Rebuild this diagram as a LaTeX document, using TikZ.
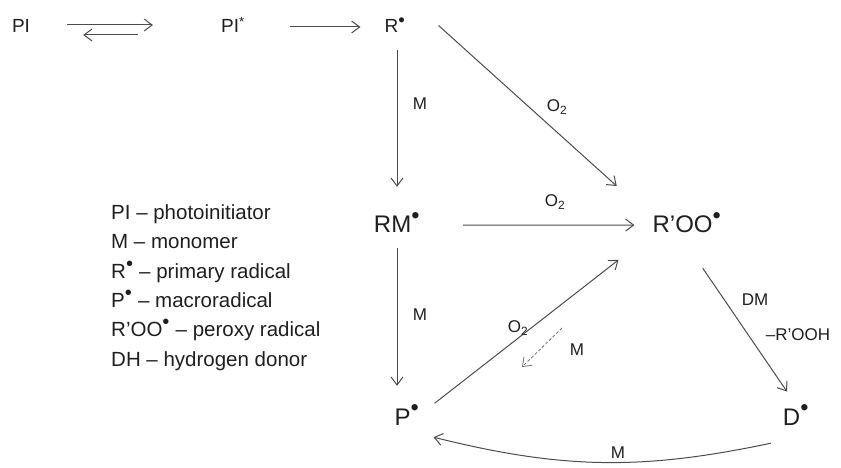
\documentclass[tikz,border=0pt]{standalone}
\usepackage{fontspec}
\setmainfont{Liberation Sans}
\usetikzlibrary{arrows.meta}

\newcommand{\rdot}{\textsuperscript{\scalebox{1.4}{\textbullet}}}
\newcommand{\fsz}[1]{\fontsize{#1}{#1}\selectfont}

\begin{document}
\begin{tikzpicture}[x=1pt, y=-1pt,
  every node/.style={inner sep=0pt, text=black!88},
  spc/.style={anchor=base, font=\fsz{19}},
  bigspc/.style={anchor=base, font=\fsz{24}},
  lbl/.style={font=\fsz{17}},
  leg/.style={anchor=base west, font=\fsz{20.5}},
  rxn/.style={draw=black!70, line width=1pt, -{Straight Barb[length=8pt,width=12pt]}}]
\useasboundingbox (0,0) rectangle (841,468);

\node[spc] (PI) at (21,33) {PI};
\node[spc] (PIs) at (233,33) {PI\textsuperscript{*}};
\node[spc] (R) at (395,33) {R\rdot};

\node[bigspc] (RM) at (397,233) {RM\rdot};
\node[bigspc] (ROO) at (687,233) {R’OO\rdot};
\node[bigspc] (P) at (407,425) {P\rdot};
\node[bigspc] (D) at (796,425) {D\rdot};

\draw[rxn, shorten <=37pt, shorten >=68pt] ([yshift=8pt]PI.base east) -- ([yshift=8pt]PIs.base west);
\draw[rxn, shorten <=83pt, shorten >=53pt] ([yshift=-2pt]PIs.base west) -- ([yshift=-2pt]PI.base east);
\draw[rxn, shorten <=45pt, shorten >=24pt] ([yshift=6pt]PIs.base east) -- ([yshift=6pt]R.base west);

\draw[rxn, shorten <=17pt, shorten >=26pt] (RM.north |- R.south) -- (RM.north);
\draw[rxn, shorten >=40pt] ([xshift=33pt]R.east) -- ([xshift=-6pt]ROO.north west);
\draw[rxn, shorten <=43pt, shorten >=18pt] ([yshift=-2pt]RM.east) -- ([yshift=-2pt]ROO.west);
\draw[rxn, shorten <=15pt, shorten >=19pt] (RM.south) -- (RM.south |- P.north);
\draw[rxn, shorten <=19pt, shorten >=43pt] (P.east) -- (ROO.south west);
\draw[rxn, shorten <=42pt, shorten >=16pt] ([xshift=-8pt]ROO.south) -- (D.north);
\draw[rxn] ([xshift=-12pt,yshift=-18pt]D.south west) to[bend left=13] ([xshift=14pt,yshift=-12pt]P.south east);

\coordinate (dashA) at (562,328);
\coordinate (dashB) at (522,367);
\draw[rxn, draw=black!55, line width=0.8pt, dash pattern=on 3pt off 2pt] (dashA) -- (dashB);

\node[lbl] (mRRM) at (420,104) {M};
\node[lbl] (oRROO) at (557,107) {O\textsubscript{2}};
\node[lbl] (oRMROO) at (555,202) {O\textsubscript{2}};
\node[lbl] (mRMP) at (420,315) {M};
\node[lbl] (oPROO) at (518,328) {O\textsubscript{2}};
\node[lbl] (mDash) at (577,350) {M};
\node[lbl] (dm) at (755,300) {DM};
\node[lbl] (rooh) at (798,335) {–R’OOH};
\node[lbl] (mDP) at (618,453) {M};

\node[leg] (leg1) at (111,219) {PI – photoinitiator};
\node[leg] (leg2) at (111,248.5) {M – monomer};
\node[leg] (leg3) at (111,278) {R\rdot{} – primary radical};
\node[leg] (leg4) at (111,307) {P\rdot{} – macroradical};
\node[leg] (leg5) at (111,336.5) {R’OO\rdot{} – peroxy radical};
\node[leg] (leg6) at (111,366) {DH – hydrogen donor};

\end{tikzpicture}
\end{document}
